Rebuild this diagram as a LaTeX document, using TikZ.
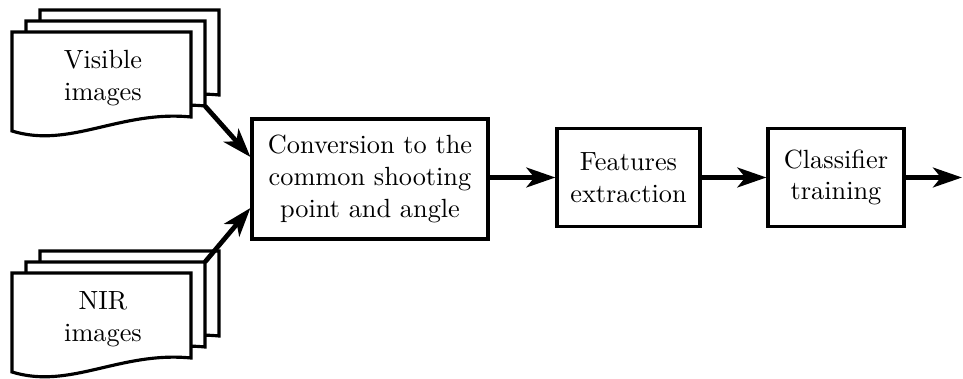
\documentclass[tikz,border=0pt]{standalone}
\usetikzlibrary{arrows.meta,calc}
\tikzset{
  docline/.style={draw=black, fill=white, line width=1.2pt, line join=miter},
  procbox/.style={draw=black, line width=1.2pt, inner sep=0pt, align=center, font=\normalsize},
  doctext/.style={align=center, inner sep=0pt},
  arr/.style={line width=1.8pt, -{Stealth[length=11pt,width=7.5pt,inset=3pt]}},
}
\newcommand{\mydocshape}[2]{%
  \begin{scope}[shift={(#1,#2)}]
    \path[docline] (0,0) -- (179,0) -- (179,85)
      .. controls (108,78) and (58,117) .. (0,99) -- cycle;
  \end{scope}}
\begin{document}
\begin{tikzpicture}[x=0.38pt,y=-0.38pt]
  \useasboundingbox (0,0) rectangle (963,379);
  % visible stack
  \mydocshape{40}{10}
  \mydocshape{26}{21}
  \mydocshape{12}{32}
  % NIR stack
  \mydocshape{40}{251}
  \mydocshape{26}{262}
  \mydocshape{12}{273}
  \node[doctext] (vis) at (103,78) {Visible\\images};
  \node[doctext] (nir) at (103,319) {NIR\\images};
  \coordinate (viscorner) at (205,106);
  \coordinate (nircorner) at (205,262);
  % process boxes
  \node[procbox, minimum width=236*0.38pt, minimum height=120*0.38pt] (conv) at (370,179) {Conversion to the\\common shooting\\point and angle};
  \node[procbox, minimum width=143*0.38pt, minimum height=98*0.38pt] (feat) at (628.5,177.5) {Features\\extraction};
  \node[procbox, minimum width=136*0.38pt, minimum height=98*0.38pt] (cls) at (836,177.5) {Classifier\\training};
  \coordinate (out) at (962,177.5);
  % connectors
  \draw[arr] (viscorner) -- ($(conv.west)+(0,-22)$);
  \draw[arr] (nircorner) -- ($(conv.west)+(0,29)$);
  \draw[arr] (conv.east |- feat.west) -- (feat.west);
  \draw[arr] (feat) -- (cls);
  \draw[arr] (cls) -- (out);
\end{tikzpicture}
\end{document}
